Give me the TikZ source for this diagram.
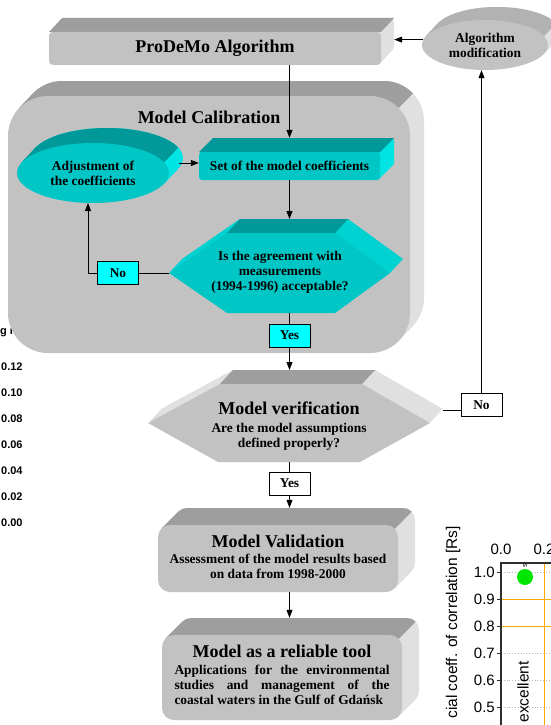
\documentclass[tikz,border=0pt]{standalone}
\usepackage{fontspec}
\setmainfont{Liberation Serif}
\newfontfamily\chartfont{Liberation Sans}
\usetikzlibrary{positioning, arrows.meta, shapes.geometric}

\definecolor{frontgray}{RGB}{194,194,194}
\definecolor{topgray}{RGB}{158,158,158}
\definecolor{sidegray}{RGB}{224,224,224}
\definecolor{ovaltop}{RGB}{178,178,178}
\definecolor{frontcyan}{RGB}{0,198,198}
\definecolor{topcyan}{RGB}{0,152,152}
\definecolor{sidecyan}{RGB}{0,228,228}
\definecolor{hexcyan}{RGB}{0,210,210}
\definecolor{boxcyan}{RGB}{0,255,255}
\definecolor{gridorange}{RGB}{255,170,0}
\definecolor{dotgreen}{RGB}{0,230,0}

\newcommand\titlesize{\fontsize{18}{18}\selectfont}

\begin{document}
\begin{tikzpicture}[
    x=1pt, y=-1pt,
    txt/.style={font=\fontsize{13.4}{15}\selectfont\bfseries, align=center, inner sep=0pt},
    titletxt/.style={font=\titlesize\bfseries, inner sep=0pt},
    frontface/.style={draw=none, inner sep=0pt},
    answer/.style={draw, line width=0.8pt, minimum width=41pt, minimum height=23pt, inner sep=0pt, font=\fontsize{13.4}{15}\selectfont\bfseries},
    arrow/.style={-{Triangle[length=8pt, width=6pt]}, line width=0.8pt},
    link/.style={line width=0.8pt},
    chart/.style={font=\chartfont\fontsize{15}{15}\selectfont, inner sep=0pt}
]
\useasboundingbox (0,0) rectangle (551,725);
\clip (0,0) rectangle (551,725);

% Left-over values on the left
\node[chart, anchor=west, font=\chartfont\bfseries\fontsize{11}{11}\selectfont] (gr) at (0,333) {g r};
\foreach \v/\y in {0.12/367, 0.10/393, 0.08/419, 0.06/445, 0.04/471, 0.02/497, 0.00/523}
  \node[chart, anchor=west, font=\chartfont\bfseries\fontsize{11}{11}\selectfont] (val\y) at (1,\y) {\v};

% Left-over chart, bottom right
\foreach \y in {572, 653, 680, 707}
  \draw[gray!60, dotted, line width=0.8pt] (501,\y) -- (551,\y);
\draw[gridorange, line width=1pt] (501,599) -- (551,599);
\draw[gridorange, line width=1pt] (501,626) -- (551,626);
\draw[gridorange, line width=1pt] (544,563) -- (544,725);
\draw[gray!35!black, line width=1.4pt] (501,725) -- (501,563) -- (551,563);
\foreach \v/\y in {1.0/572, 0.9/599, 0.8/626, 0.7/653, 0.6/680, 0.5/707} {
  \draw[gray!35!black, line width=0.8pt] (497,\y) -- (501,\y);
  \node[chart, anchor=east] (tick\y) at (495,\y) {\v};
}
\node[chart] (top0) at (501,549) {0.0};
\node[chart] (top2) at (544,549) {0.2};
\fill[dotgreen] (525,577) circle (8pt);
\node[chart, rotate=90, font=\chartfont\fontsize{7}{7}\selectfont] (dotlabel) at (525,566) {s};
\node[chart, rotate=90, anchor=east, font=\chartfont\fontsize{15.5}{15.5}\selectfont] (axislabel) at (453,526) {cial coeff. of correlation [Rs]};
\node[chart, rotate=90, font=\chartfont\fontsize{15.5}{15.5}\selectfont] (excellent) at (523,692) {excellent};

% ProDeMo Algorithm
\foreach \s in {1,...,14}
  \fill[sidegray, rounded corners=4pt, shift={(\s*13/14,-\s)}] (49,32) rectangle (381,65);
\fill[topgray] (49,32) -- (62,18) -- (394,18) -- (381,32) -- cycle;
\node[frontface, fill=frontgray, rounded corners=4pt, minimum width=332pt, minimum height=33pt, titletxt] (prodemo) at (215,48.5) {ProDeMo Algorithm};

% Algorithm modification
\foreach \s in {1,...,13}
  \fill[sidegray, shift={(\s*12/13,-\s)}] (485,45) ellipse [x radius=63pt, y radius=25pt];
\begin{scope}
  \clip (543.6,35.8) ++(400,-400) -- ++(-800,800) -- ++(0,-800) -- cycle;
  \foreach \s in {1,...,13}
    \fill[ovaltop, shift={(\s*12/13,-\s)}] (485,45) ellipse [x radius=63pt, y radius=25pt];
\end{scope}
\node[ellipse, frontface, fill=frontgray, minimum width=126pt, minimum height=50pt, txt] (algmod) at (485,45) {Algorithm\\modification};

% Model Calibration
\foreach \s in {1,...,15}
  \fill[sidegray, rounded corners=40pt, shift={(\s*14/15,-\s)}] (8,96) rectangle (410,353);
\begin{scope}
  \clip (398.3,107.7) ++(400,-400) -- ++(-800,800) -- ++(0,-800) -- cycle;
  \foreach \s in {1,...,15}
    \fill[topgray, rounded corners=40pt, shift={(\s*14/15,-\s)}] (8,96) rectangle (410,353);
\end{scope}
\node[frontface, fill=frontgray, rounded corners=40pt, minimum width=402pt, minimum height=257pt] (calib) at (209,224.5) {};
\node[titletxt] (calibtitle) at (209,117) {Model Calibration};

% Adjustment of the coefficients
\foreach \s in {1,...,15}
  \fill[sidecyan, shift={(\s*14/15,-\s)}] (93,173) ellipse [x radius=76pt, y radius=30pt];
\begin{scope}
  \clip (163.7,162) ++(400,-400) -- ++(-800,800) -- ++(0,-800) -- cycle;
  \foreach \s in {1,...,15}
    \fill[topcyan, shift={(\s*14/15,-\s)}] (93,173) ellipse [x radius=76pt, y radius=30pt];
\end{scope}
\node[ellipse, frontface, fill=frontcyan, minimum width=152pt, minimum height=60pt, txt] (adjust) at (93,173) {Adjustment of\\the coefficients};

% Set of the model coefficients
\foreach \s in {1,...,14}
  \fill[sidecyan, rounded corners=3pt, shift={(\s,-\s)}] (199,152) rectangle (380,180);
\fill[topcyan] (199,152) -- (213,138) -- (394,138) -- (380,152) -- cycle;
\node[frontface, fill=frontcyan, rounded corners=3pt, minimum width=181pt, minimum height=28pt, txt] (coeffs) at (289.5,166) {Set of the model coefficients};

% Decision
\foreach \s in {1,...,14}
  \fill[hexcyan, shift={(\s*13/14,-\s)}] (169,273) -- (227,233) -- (335,233) -- (390,273) -- (335,313) -- (227,313) -- cycle;
\fill[topcyan] (227,233) -- (240,219) -- (348,219) -- (335,233) -- cycle;
\fill[frontcyan] (169,273) -- (227,233) -- (335,233) -- (390,273) -- (335,313) -- (227,313) -- cycle;
\coordinate (decL) at (169,273);
\coordinate (dectop) at (289.5,219);
\coordinate (decbot) at (289.5,313);
\node[txt] (decision) at (280,272) {Is the agreement with\\measurements\\(1994-1996) acceptable?};

% Answers inside calibration
\node[answer, fill=boxcyan] (nocal) at (118,273) {No};
\node[answer, fill=boxcyan] (yescal) at (289.5,335.5) {Yes};

% Model verification
\foreach \s in {1,...,14}
  \fill[sidegray, shift={(\s*13/14,-\s)}] (148,423) -- (220,384) -- (362,384) -- (430,423) -- (360,462) -- (218,462) -- cycle;
\fill[topgray] (220,384) -- (233,370) -- (375,370) -- (362,384) -- cycle;
\fill[frontgray] (148,423) -- (220,384) -- (362,384) -- (430,423) -- (360,462) -- (218,462) -- cycle;
\coordinate (vertop) at (289.5,370);
\coordinate (verbot) at (289.5,462);
\coordinate (verR) at (443,410);
\node[txt] (verification) at (289,426) {{\titlesize Model verification}\\[2.5pt]Are the model assumptions\\defined properly?};

\node[answer, fill=white] (nover) at (481.5,405) {No};
\node[answer, fill=white] (yesver) at (289.5,483.5) {Yes};

% Model Validation
\foreach \s in {1,...,17}
  \fill[sidegray, rounded corners=12pt, shift={(\s,-\s)}] (158,525) rectangle (398,592);
\begin{scope}
  \clip (394.5,528.5) ++(400,-400) -- ++(-800,800) -- ++(0,-800) -- cycle;
  \foreach \s in {1,...,17}
    \fill[topgray, rounded corners=12pt, shift={(\s,-\s)}] (158,525) rectangle (398,592);
\end{scope}
\node[frontface, fill=frontgray, rounded corners=12pt, minimum width=240pt, minimum height=67pt] (valid) at (278,558.5) {};
\node[txt] (validtext) at (278,557) {{\titlesize Model Validation}\\[1.5pt]Assessment of the model results based\\on data from 1998-2000};

% Model as a reliable tool
\foreach \s in {1,...,17}
  \fill[sidegray, rounded corners=12pt, shift={(\s,-\s)}] (162,635) rectangle (402,720);
\begin{scope}
  \clip (398.5,638.5) ++(400,-400) -- ++(-800,800) -- ++(0,-800) -- cycle;
  \foreach \s in {1,...,17}
    \fill[topgray, rounded corners=12pt, shift={(\s,-\s)}] (162,635) rectangle (402,720);
\end{scope}
\node[frontface, fill=frontgray, rounded corners=12pt, minimum width=240pt, minimum height=85pt] (tool) at (282,677.5) {};
\node[txt] (tooltext) at (282,675) {{\titlesize Model as a reliable tool}\\[1.5pt]
  \makebox[215pt][s]{Applications for the environmental}\\
  \makebox[215pt][s]{studies and management of the}\\
  \makebox[215pt][l]{coastal waters in the Gulf of Gdańsk}};

% Connectors
\coordinate (proside) at ([xshift=13pt]prodemo.east);
\coordinate (settop) at ([yshift=14pt]coeffs.north);
\coordinate (adjR) at (179,163);
\coordinate (adjbot) at (88,203);
\coordinate (valtop) at ([yshift=17pt]valid.north);
\coordinate (tooltop) at ([yshift=17pt]tool.north);

\draw[arrow] (algmod.175) -- (algmod.175 -| proside);
\draw[arrow] (prodemo.south -| coeffs.north) -- (settop);
\draw[arrow] (adjR) -- (adjR -| coeffs.west);
\draw[arrow] (coeffs.south) -- (dectop);
\draw[link] (decL) -- (nocal.east);
\draw[arrow] (nocal.west) -| (adjbot);
\draw[link] (decbot) -- (yescal.north);
\draw[arrow] (yescal.south) -- (vertop);
\draw[link] (verR) -- (verR -| nover.west);
\draw[arrow] (nover.north) -- (nover.north |- algmod.south);
\draw[link] (verbot) -- (yesver.north);
\draw[arrow] (yesver.south) -- (yesver.south |- valtop);
\draw[arrow] (yesver.south |- valid.south) -- (yesver.south |- tooltop);

\end{tikzpicture}
\end{document}
